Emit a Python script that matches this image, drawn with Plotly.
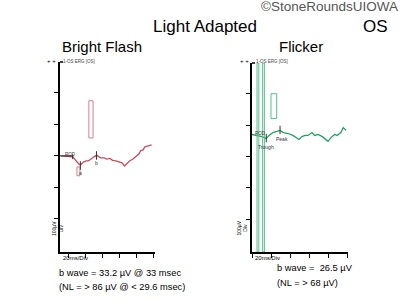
import plotly.graph_objects as go

# ---------------- data ----------------
left_t = [-9, -4, 2, 5, 8, 10, 12, 14, 16, 18, 21, 23, 25, 28, 30, 32, 33, 36, 38, 42,
          45, 49, 52, 56, 59, 63, 66, 69, 72, 76, 79, 83, 85, 88, 90, 94, 98]
left_uv = [0, 0, -2, -3, -13, -19, -25, -29, -25, -19, -16, -16, -13, -6, -3, 0, 3, -3, -6, -6,
           -10, -8, -14, -16, -19, -22, -32, -25, -16, -10, -3, 6, 16, 19, 29, 32, 35]

right_t = [0, 5, 10.5, 15, 18, 22, 26, 29.5, 33, 38, 43, 47, 49.5, 52.5, 56, 59, 63, 66,
           69.5, 74, 77, 80, 84, 87, 89.5, 93.5, 96, 99]
right_uv = [70, 67, 63, 57, 67, 76, 79, 83, 76, 73, 67, 60, 54, 63, 67, 67, 76, 67,
            70, 63, 54, 48, 63, 70, 67, 76, 92, 83]

x_ticks_left = [0, 20, 40, 60, 80, 100]
x_ticks_right = [0, 20, 40, 60, 80, 100]
y_ticks = [-200, -100, 0, 100, 200]

# cursor boxes (ms, µV)
left_box_big = [24, 29, 57, 175]
left_box_small = [10, 13.5, -63, -35]
right_box = [20, 26, 121, 200]
right_cursors = [[5.3, 7.2], [11.2, 13]]

left_marks = {"a": (14, -29), "b": (33, 3)}
right_marks = {"Trough": (15, 57), "Peak": (29.5, 83)}

red = "#c94d5c"
red_box = "#dd7f89"
green = "#23a064"
green_box = "#55bf8c"
FONT = "Liberation Sans, Arial, sans-serif"

fig = go.Figure()
fig.add_trace(go.Scatter(x=left_t, y=left_uv, mode="lines",
                         line=dict(color=red, width=1.3), xaxis="x", yaxis="y",
                         showlegend=False, hoverinfo="skip"))
fig.add_trace(go.Scatter(x=right_t, y=right_uv, mode="lines",
                         line=dict(color=green, width=1.3), xaxis="x2", yaxis="y2",
                         showlegend=False, hoverinfo="skip"))

axis_common = dict(showgrid=False, zeroline=False, showline=True, linecolor="black",
                   linewidth=1.5, ticks="outside", ticklen=4, tickcolor="black",
                   tickwidth=1, showticklabels=False, fixedrange=True)

fig.update_layout(
    width=400, height=300,
    margin=dict(l=0, r=0, t=0, b=0),
    paper_bgcolor="white", plot_bgcolor="white",
    xaxis=dict(domain=[0.15, 0.3875], range=[-10, 102], tickvals=x_ticks_left,
               anchor="y", **axis_common),
    yaxis=dict(domain=[0.16, 0.7933], range=[-305, 298], tickvals=y_ticks,
               anchor="x", **axis_common),
    xaxis2=dict(domain=[0.63, 0.87], range=[0, 101], tickvals=x_ticks_right,
                anchor="y2", **axis_common),
    yaxis2=dict(domain=[0.16, 0.79], range=[-305, 298], tickvals=y_ticks,
                anchor="x2", **axis_common),
)

shapes = []
# boxes
shapes.append(dict(type="rect", xref="x", yref="y", x0=left_box_big[0], x1=left_box_big[1],
                   y0=left_box_big[2], y1=left_box_big[3], line=dict(color=red_box, width=1)))
shapes.append(dict(type="rect", xref="x", yref="y", x0=left_box_small[0], x1=left_box_small[1],
                   y0=left_box_small[2], y1=left_box_small[3], line=dict(color=red_box, width=1)))
shapes.append(dict(type="rect", xref="x2", yref="y2", x0=right_box[0], x1=right_box[1],
                   y0=right_box[2], y1=right_box[3], line=dict(color=green_box, width=1)))
for c in right_cursors:
    shapes.append(dict(type="rect", xref="x2", yref="y2", x0=c[0], x1=c[1],
                       y0=-305, y1=298, line=dict(color=green_box, width=1)))
# marker ticks
for name, (t, v) in left_marks.items():
    shapes.append(dict(type="line", xref="x", yref="y", x0=t, x1=t, y0=v - 15, y1=v + 12,
                       line=dict(color="#333333", width=1)))
for name, (t, v) in right_marks.items():
    shapes.append(dict(type="line", xref="x2", yref="y2", x0=t, x1=t, y0=v - 12, y1=v + 15,
                       line=dict(color="#333333", width=1)))
# baseline cursor segments
shapes.append(dict(type="line", xref="x", yref="y", x0=-10, x1=5, y0=0, y1=0,
                   line=dict(color="#222222", width=1)))
shapes.append(dict(type="line", xref="x", yref="y", x0=5, x1=5, y0=-10, y1=5,
                   line=dict(color="#222222", width=1)))
# top hooks
shapes.append(dict(type="line", xref="paper", yref="paper", x0=0.15, x1=0.1575,
                   y0=1 - 62 / 300, y1=1 - 62 / 300, line=dict(color="black", width=1.5)))
shapes.append(dict(type="line", xref="paper", yref="paper", x0=0.63, x1=0.6375,
                   y0=1 - 63 / 300, y1=1 - 63 / 300, line=dict(color="black", width=1.5)))
fig.update_layout(shapes=shapes)

ann = []
def txt(x, y, s, size, color="black", xanchor="center", **kw):
    ann.append(dict(x=x / 400, y=1 - y / 300, xref="paper", yref="paper", text=s,
                    showarrow=False, xanchor=xanchor, yanchor="middle",
                    font=dict(size=size, color=color, family=FONT), **kw))

txt(400, 7, "©StoneRoundsUIOWA", 13.5, color="#555555", xanchor="right")
txt(205, 26, "Light Adapted", 17)
txt(375, 26, "OS", 17)
txt(102, 46, "Bright Flash", 15)
txt(301, 46, "Flicker", 15)

txt(45, 61, "+ +", 6, xanchor="left")
txt(61, 61, "1-OS ERG [OS]", 4.5, color="#444444", xanchor="left")
txt(238, 61, "+ +", 6, xanchor="left")
txt(254, 61, "1-OS ERG [OS]", 4.5, color="#444444", xanchor="left")

txt(61, 258, "20ms/Div", 6, xanchor="left")
txt(253, 258, "20ms/Div", 6, xanchor="left")
for xx in (49, 242):
    ann.append(dict(x=xx / 400, y=1 - 238 / 300, xref="paper", yref="paper",
                    text="100µV<br>Div", showarrow=False, textangle=-90,
                    font=dict(size=5, color="black", family=FONT)))

txt(57, 273, "b wave = 33.2 µV @ 33 msec", 9.3, xanchor="left")
txt(57, 287, "(NL = > 86 µV @ < 29.6 msec)", 9.3, xanchor="left")
txt(275, 268, "b wave =  26.5 µV", 9.3, xanchor="left")
txt(275, 283, "(NL = > 68 µV)", 9.3, xanchor="left")

# small in-plot labels
for name, (t, v) in left_marks.items():
    ann.append(dict(x=t, y=v - 25, xref="x", yref="y", text=name, showarrow=False,
                    font=dict(size=5, color="#333333", family=FONT)))
for name, (t, v) in right_marks.items():
    ann.append(dict(x=t + (2 if name == "Peak" else 0), y=v - 28, xref="x2", yref="y2",
                    text=name, showarrow=False, font=dict(size=5, color="#333333", family=FONT)))
ann.append(dict(x=-7, y=4, xref="x", yref="y", text="ROD", showarrow=False,
                xanchor="left", font=dict(size=4.5, color="#333333", family=FONT)))
ann.append(dict(x=1, y=74, xref="x2", yref="y2", text="ROD", showarrow=False,
                xanchor="left", font=dict(size=4.5, color="#333333", family=FONT)))

fig.update_layout(annotations=ann)
fig.write_html("out.html")
